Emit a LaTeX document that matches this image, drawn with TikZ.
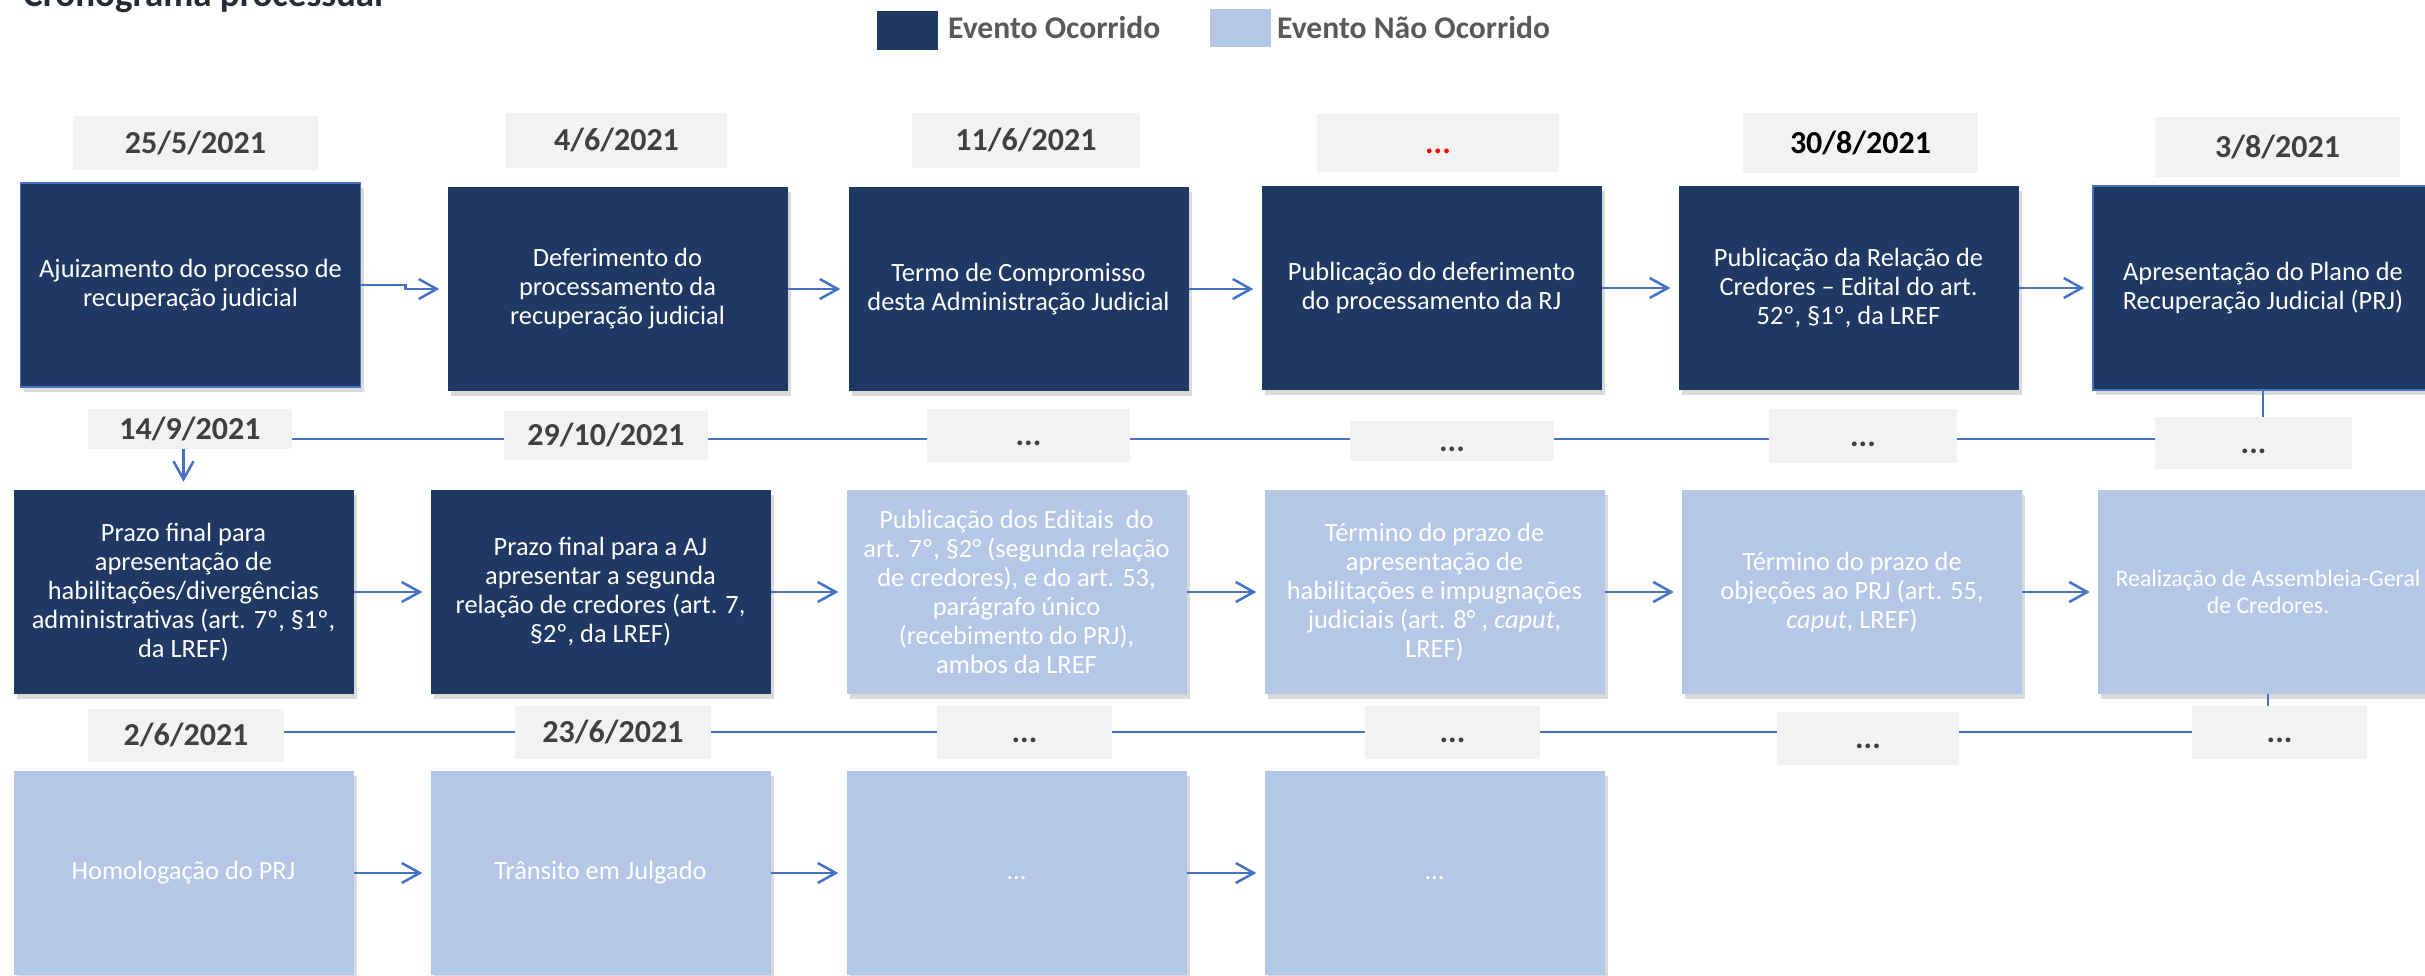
\documentclass[tikz,border=0pt]{standalone}
\usepackage{fontspec}
\setmainfont{Carlito}
\usetikzlibrary{arrows.meta,shadows,calc}
\definecolor{navy}{HTML}{1F3864}
\definecolor{lightb}{HTML}{B4C7E7}
\definecolor{arrowc}{HTML}{4472C4}
\definecolor{grayb}{HTML}{F2F2F2}
\definecolor{datec}{HTML}{404040}
\definecolor{legc}{HTML}{595959}
\definecolor{titlec}{HTML}{262B38}
\tikzset{
  evbox/.style={rectangle, minimum width=340pt, minimum height=204pt, inner sep=0pt,
    align=center, text=white, font=\fontsize{26.4}{29}\selectfont,
    drop shadow={shadow xshift=3pt, shadow yshift=-5pt, opacity=0.3}},
  done/.style={evbox, fill=navy},
  todo/.style={evbox, fill=lightb},
  datebox/.style={rectangle, fill=grayb, inner sep=0pt, text=datec,
    font=\fontsize{32}{36}\selectfont\bfseries, text height=20pt, text depth=0pt},
  conn/.style={draw=arrowc, line width=2.5pt},
  arr/.style={conn, -{Straight Barb[length=18pt,width=20pt]}, shorten >=8pt},
  legtext/.style={anchor=base west, inner sep=0pt, text=legc, font=\fontsize{31.6}{34}\selectfont\bfseries},
}
\begin{document}
\begin{tikzpicture}[x=1pt,y=-1pt]
\useasboundingbox (0,0) rectangle (2425,975);
% title and legend
\node[anchor=base west, inner sep=0pt, font=\fontsize{37}{40}\selectfont\bfseries, text=titlec] (title) at (23,6.5) {Cronograma processual};
\node[fill=navy, minimum width=61pt, minimum height=39pt, inner sep=0pt] (lg1) at (907.5,30.5) {};
\node[legtext] (lt1) at (948,38) {Evento Ocorrido};
\node[fill=lightb, minimum width=61pt, minimum height=38pt, inner sep=0pt] (lg2) at (1240.5,28) {};
\node[legtext] (lt2) at (1277,38) {Evento Não Ocorrido};

% row 1 dates
\node[datebox, minimum width=245pt, minimum height=54pt] (d1) at (195.5,143) {25/5/2021};
\node[datebox, minimum width=221pt, minimum height=55pt] (d2) at (616.5,140.5) {4/6/2021};
\node[datebox, minimum width=228pt, minimum height=55pt] (d3) at (1026,140.5) {11/6/2021};
\node[datebox, minimum width=242pt, minimum height=58pt, text=red] (d4) at (1438,143) {...};
\node[datebox, minimum width=235pt, minimum height=60pt, text=black] (d5) at (1860.5,143) {30/8/2021};
\node[datebox, minimum width=245pt, minimum height=60pt] (d6) at (2277.5,147) {3/8/2021};

% row 1 boxes
\node[done, draw=arrowc, line width=1.5pt] (b1) at (190.5,285) {Ajuizamento do processo de\\recuperação judicial};
\node[done] (b2) at (617.5,289) {Deferimento do\\processamento da\\recuperação judicial};
\node[done] (b3) at (1018.5,289) {Termo de Compromisso\\desta Administração Judicial};
\node[done] (b4) at (1431.5,288) {Publicação do deferimento\\do processamento da RJ};
\node[done] (b5) at (1848.5,288) {Publicação da Relação de\\Credores – Edital do art.\\52º, §1º, da LREF};
\node[done, draw=arrowc, line width=1.5pt] (b6) at (2263,288) {Apresentação do Plano de\\Recuperação Judicial (PRJ)};

\draw[arr] (b1.east) -- ++(44,0) |- (b2.west);
\draw[arr] (b2.east) -- (b2.east -| b3.west);
\draw[arr] (b3.east) -- (b3.east -| b4.west);
\draw[arr] (b4.east) -- (b4.east -| b5.west);
\draw[arr] (b5.east) -- (b5.east -| b6.west);

% row 2 dates
\coordinate (L2) at (0,439);
\node[datebox, minimum width=204pt, minimum height=40pt] (e1) at (190,429) {14/9/2021};
\node[datebox, minimum width=204pt, minimum height=49pt] (e2) at (606,435.5) {29/10/2021};
\node[datebox, minimum width=203pt, minimum height=53pt] (e3) at (1028.5,435.5) {...};
\node[datebox, minimum width=204pt, minimum height=40pt] (e4) at (1452,441) {...};
\node[datebox, minimum width=188pt, minimum height=54pt] (e5) at (1863,436) {...};
\node[datebox, minimum width=197pt, minimum height=52pt] (e6) at (2253.5,443) {...};
\draw[conn] (e1.east |- L2) -- (e2.west |- L2);
\draw[conn] (e2.east |- L2) -- (e3.west |- L2);
\draw[conn] (e3.east |- L2) -- (e4.west |- L2);
\draw[conn] (e4.east |- L2) -- (e5.west |- L2);
\draw[conn] (e5.east |- L2) -- (e6.west |- L2);
\draw[conn] (b6.south) -- (b6.south |- e6.north);

% row 2 boxes
\node[done] (b7) at (183.5,592) {Prazo final para\\apresentação de\\habilitações/divergências\\administrativas (art. 7º, §1º,\\da LREF)};
\node[done] (b8) at (600.5,592) {Prazo final para a AJ\\apresentar a segunda\\relação de credores (art. 7,\\§2º, da LREF)};
\node[todo] (b9) at (1016.5,592) {Publicação dos Editais\ \ do\\art. 7º, §2° (segunda relação\\de credores), e do art. 53,\\parágrafo único\\(recebimento do PRJ),\\ambos da LREF};
\node[todo] (b10) at (1434.5,592) {Término do prazo de\\apresentação de\\habilitações e impugnações\\judiciais (art. 8° , \textit{caput},\\LREF)};
\node[todo] (b11) at (1852,592) {Término do prazo de\\objeções ao PRJ (art. 55,\\\textit{caput}, LREF)};
\node[todo, font=\fontsize{23.8}{27}\selectfont] (b12) at (2268,592) {Realização de Assembleia-Geral\\de Credores.};

\draw[arr] (b7.north |- e1.south) -- (b7.north);
\draw[arr] (b7.east) -- (b7.east -| b8.west);
\draw[arr] (b8.east) -- (b8.east -| b9.west);
\draw[arr] (b9.east) -- (b9.east -| b10.west);
\draw[arr] (b10.east) -- (b10.east -| b11.west);
\draw[arr] (b11.east) -- (b11.east -| b12.west);

% row 3 dates
\coordinate (L3) at (0,732);
\node[datebox, minimum width=196pt, minimum height=53pt] (f1) at (186,735.5) {2/6/2021};
\node[datebox, minimum width=196pt, minimum height=53pt] (f2) at (613,732.5) {23/6/2021};
\node[datebox, minimum width=175pt, minimum height=53pt] (f3) at (1024.5,732.5) {...};
\node[datebox, minimum width=175pt, minimum height=53pt] (f4) at (1452.5,732.5) {...};
\node[datebox, minimum width=182pt, minimum height=53pt] (f5) at (1868,738.5) {...};
\node[datebox, minimum width=175pt, minimum height=53pt] (f6) at (2279.5,732.5) {...};
\draw[conn] (f1.east |- L3) -- (f2.west |- L3);
\draw[conn] (f2.east |- L3) -- (f3.west |- L3);
\draw[conn] (f3.east |- L3) -- (f4.west |- L3);
\draw[conn] (f4.east |- L3) -- (f5.west |- L3);
\draw[conn] (f5.east |- L3) -- (f6.west |- L3);
\draw[conn] (b12.south) -- (b12.south |- f6.north);

% row 3 boxes
\node[todo] (b13) at (183.5,873) {Homologação do PRJ};
\node[todo] (b14) at (600.5,873) {Trânsito em Julgado};
\node[todo] (b15) at (1016.5,873) {\vphantom{Homologação}...};
\node[todo] (b16) at (1434.5,873) {\vphantom{Homologação}...};
\draw[arr] (b13.east) -- (b13.east -| b14.west);
\draw[arr] (b14.east) -- (b14.east -| b15.west);
\draw[arr] (b15.east) -- (b15.east -| b16.west);
\end{tikzpicture}
\end{document}
